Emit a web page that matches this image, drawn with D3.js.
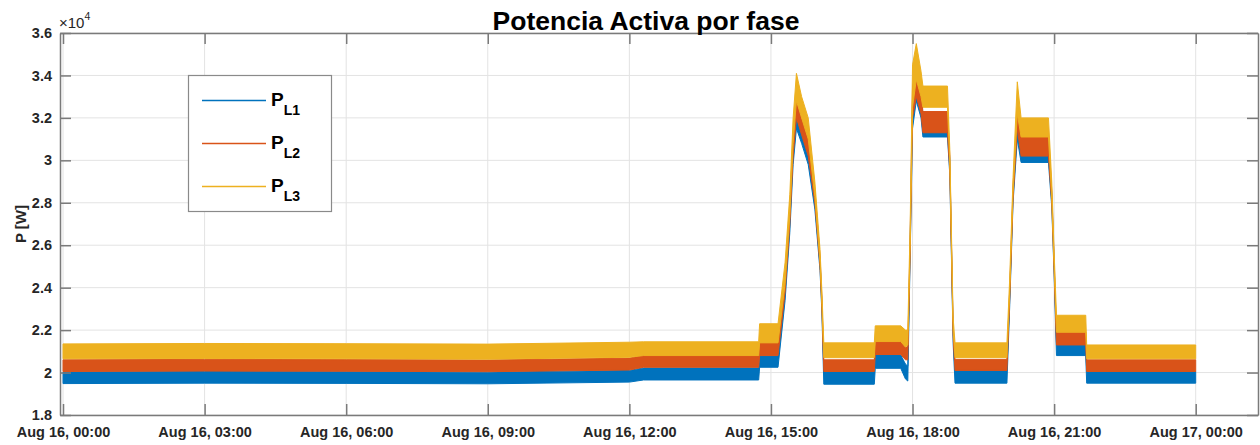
<!DOCTYPE html>
<html>
<head>
<meta charset="utf-8">
<script src="https://cdn.jsdelivr.net/npm/d3@7"></script>
<style>
  html, body { margin: 0; padding: 0; background: #fff; }
  svg { display: block; }
  text { font-family: "Liberation Sans", Arial, sans-serif; }
</style>
</head>
<body>
<svg id="chart" width="1260" height="445"></svg>
<script>
// Hours after Aug 16, 00:00 where the envelope of each phase changes
const hours = [0, 3, 6, 9, 12, 12.3, 14.74, 14.76, 15.15, 15.3, 15.4, 15.47, 15.54, 15.65, 15.79, 15.93, 16.04, 16.08, 16.12,
  17.19, 17.21, 17.75, 17.85, 17.9, 17.95, 18.0, 18.08, 18.18, 18.22, 18.74, 18.79, 18.86, 18.9,
  20.0, 20.06, 20.13, 20.22, 20.3, 20.88, 20.95, 21.0, 21.05, 21.67, 21.69, 24.0];

// Lower / upper edge of each noisy phase trace, in W
const pL1Low  = [19480, 19500, 19490, 19470, 19550, 19650, 19650, 20250, 20250, 23400, 26600, 29800, 31500, 30800, 29800, 27700, 24800, 22800, 19450,
  19450, 20200, 20200, 19700, 19600, 25500, 31500, 32800, 32000, 31100, 31100, 29300, 21400, 19500,
  19500, 23200, 28000, 31000, 29900, 29900, 27800, 24600, 20800, 20800, 19500, 19500];
const pL1High = [20030, 20050, 20040, 20020, 20100, 20220, 20220, 20780, 20780, 24200, 27400, 30700, 32200, 31400, 30600, 28300, 25300, 23300, 20050,
  20050, 20830, 20830, 20400, 20300, 26200, 33000, 34000, 33000, 32100, 32100, 30000, 22000, 20100,
  20100, 23700, 28500, 31800, 30900, 30900, 28400, 25200, 21400, 21400, 20050, 20050];

const pL2Low  = [20050, 20070, 20060, 20040, 20120, 20250, 20250, 20800, 20800, 23800, 27000, 30200, 32000, 31200, 30200, 28000, 25000, 23000, 20050,
  20050, 20850, 20850, 20600, 20600, 25700, 32000, 33000, 32200, 31300, 31300, 29500, 21700, 20100,
  20100, 23500, 28200, 31500, 30200, 30200, 28000, 24800, 21300, 21300, 20050, 20050];
const pL2High = [20600, 20620, 20610, 20590, 20680, 20800, 20800, 21400, 21400, 24600, 27800, 31200, 33000, 32000, 31200, 28600, 25500, 23500, 20600,
  20600, 21460, 21460, 21200, 21200, 26500, 33500, 34200, 33200, 32300, 32300, 30200, 22200, 20620,
  20620, 24000, 28800, 32500, 31100, 31100, 28600, 25400, 21900, 21900, 20600, 20600];

const pL3Low  = [20650, 20660, 20650, 20630, 20720, 20800, 20800, 21400, 21400, 24200, 27400, 30800, 32800, 32000, 31000, 28300, 25200, 23200, 20700,
  20700, 21460, 21460, 21200, 21300, 26000, 32500, 33800, 33000, 32500, 32500, 29800, 22000, 20700,
  20700, 23800, 28500, 32200, 31100, 31100, 28200, 25000, 21900, 21900, 20650, 20650];
const pL3High = [21350, 21370, 21360, 21340, 21430, 21450, 21450, 22300, 22300, 25200, 28400, 32000, 34100, 33000, 32000, 29000, 25800, 23800, 21400,
  21400, 22200, 22200, 22000, 22000, 27000, 34500, 35500, 34200, 33500, 33500, 30500, 22600, 21400,
  21400, 24500, 29200, 33700, 32000, 32000, 29000, 25700, 22700, 22700, 21300, 21300];

const seriesNames = ["L1", "L2", "L3"];
const seriesColors = ["#0072BD", "#D95319", "#EDB120"];

const yTickValues = [18000, 20000, 22000, 24000, 26000, 28000, 30000, 32000, 34000, 36000];
const xTickHours = [0, 3, 6, 9, 12, 15, 18, 21, 24];

const t0 = new Date(2021, 7, 16, 0, 0, 0);
const toDate = h => new Date(t0.getTime() + h * 3600 * 1000);

const svg = d3.select("#chart");
const plot = { left: 60, right: 1258, top: 33, bottom: 415 };

const x = d3.scaleTime()
  .domain([toDate(-0.064), toDate(25.32)])
  .range([plot.left, plot.right]);
const y = d3.scaleLinear()
  .domain([18000, 36000])
  .range([plot.bottom, plot.top]);

const tickColor = "#262626";
const axisColor = "#7a7a7a";
const gridColor = "#e3e3e3";
const tickLen = 11;

// Grid
const grid = svg.append("g");
grid.selectAll("line.gx").data(xTickHours).join("line")
  .attr("x1", d => x(toDate(d))).attr("x2", d => x(toDate(d)))
  .attr("y1", plot.top).attr("y2", plot.bottom)
  .attr("stroke", gridColor).attr("stroke-width", 1);
grid.selectAll("line.gy").data(yTickValues).join("line")
  .attr("x1", plot.left).attr("x2", plot.right)
  .attr("y1", d => y(d)).attr("y2", d => y(d))
  .attr("stroke", gridColor).attr("stroke-width", 1);

// Phase envelopes
const series = [
  { name: seriesNames[0], color: seriesColors[0], low: pL1Low, high: pL1High },
  { name: seriesNames[1], color: seriesColors[1], low: pL2Low, high: pL2High },
  { name: seriesNames[2], color: seriesColors[2], low: pL3Low, high: pL3High }
];

const area = d3.area()
  .x(d => x(d.t))
  .y0(d => y(d.lo))
  .y1(d => y(d.hi));

svg.append("clipPath").attr("id", "plotClip")
  .append("rect").attr("x", plot.left).attr("y", plot.top)
  .attr("width", plot.right - plot.left).attr("height", plot.bottom - plot.top);

const marks = svg.append("g").attr("clip-path", "url(#plotClip)");
series.forEach(s => {
  const pts = hours.map((h, i) => ({ t: toDate(h), lo: s.low[i], hi: s.high[i] }));
  marks.append("path")
    .datum(pts)
    .attr("d", area)
    .attr("fill", s.color)
    .attr("stroke", s.color)
    .attr("stroke-width", 1)
    .attr("stroke-linejoin", "round");
});

// Axes (box with inward ticks on all sides)
const fmtTime = d3.timeFormat("%b %d, %H:%M");
const fmtY = v => String(+(v / 1e4).toFixed(1));

const xAxisB = d3.axisBottom(x).tickValues(xTickHours.map(toDate)).tickFormat(fmtTime).tickSizeInner(-tickLen).tickSizeOuter(0).tickPadding(12);
const xAxisT = d3.axisTop(x).tickValues(xTickHours.map(toDate)).tickFormat("").tickSizeInner(-tickLen).tickSizeOuter(0);
const yAxisL = d3.axisLeft(y).tickValues(yTickValues).tickFormat(fmtY).tickSizeInner(-tickLen).tickSizeOuter(0).tickPadding(8);
const yAxisR = d3.axisRight(y).tickValues(yTickValues).tickFormat("").tickSizeInner(-tickLen).tickSizeOuter(0);

function styleAxis(g) {
  g.select(".domain").attr("stroke", axisColor).attr("stroke-width", 1.5);
  g.selectAll(".tick line").attr("stroke", axisColor).attr("stroke-width", 1.5);
  g.selectAll(".tick text").attr("fill", tickColor)
    .style("font-family", "'Liberation Sans', Arial, sans-serif")
    .style("font-size", "14.5px").style("font-weight", "bold");
}

svg.append("g").attr("transform", `translate(0,${plot.bottom})`).call(xAxisB).call(styleAxis);
svg.append("g").attr("transform", `translate(0,${plot.top})`).call(xAxisT).call(styleAxis);
svg.append("g").attr("transform", `translate(${plot.left},0)`).call(yAxisL).call(styleAxis);
svg.append("g").attr("transform", `translate(${plot.right},0)`).call(yAxisR).call(styleAxis);

// Exponent marker
const expo = svg.append("text").attr("x", 59).attr("y", 28)
  .attr("fill", tickColor).style("font-size", "15px");
expo.append("tspan").text("\u00d710");
expo.append("tspan").attr("dy", -8).style("font-size", "10.5px").text("4");

// Title
svg.append("text")
  .attr("x", 646).attr("y", 30)
  .attr("text-anchor", "middle")
  .attr("fill", "#000")
  .style("font-size", "26.5px").style("font-weight", "bold")
  .text("Potencia Activa por fase");

// Y label
svg.append("text")
  .attr("transform", `translate(26,${(plot.top + plot.bottom) / 2}) rotate(-90)`)
  .attr("text-anchor", "middle")
  .attr("fill", tickColor)
  .style("font-size", "15px").style("font-weight", "bold")
  .text("P [W]");

// Legend
const legend = svg.append("g");
legend.append("rect")
  .attr("x", 188.5).attr("y", 75.5).attr("width", 143).attr("height", 136)
  .attr("fill", "#fff").attr("stroke", "#8a8a8a").attr("stroke-width", 1.2);
const legendRowY = d3.scalePoint().domain(seriesNames).range([100, 186]);
series.forEach(s => {
  const ly = Math.round(legendRowY(s.name));
  legend.append("line")
    .attr("x1", 202).attr("x2", 266).attr("y1", ly + 0.5).attr("y2", ly + 0.5)
    .attr("stroke", s.color).attr("stroke-width", 1.3);
  const t = legend.append("text").attr("x", 271).attr("y", ly + 6)
    .attr("fill", "#000").style("font-weight", "bold").style("font-size", "19px");
  t.append("tspan").text("P");
  t.append("tspan").attr("dy", 9).style("font-size", "14px").text(s.name);
});
</script>
</body>
</html>
